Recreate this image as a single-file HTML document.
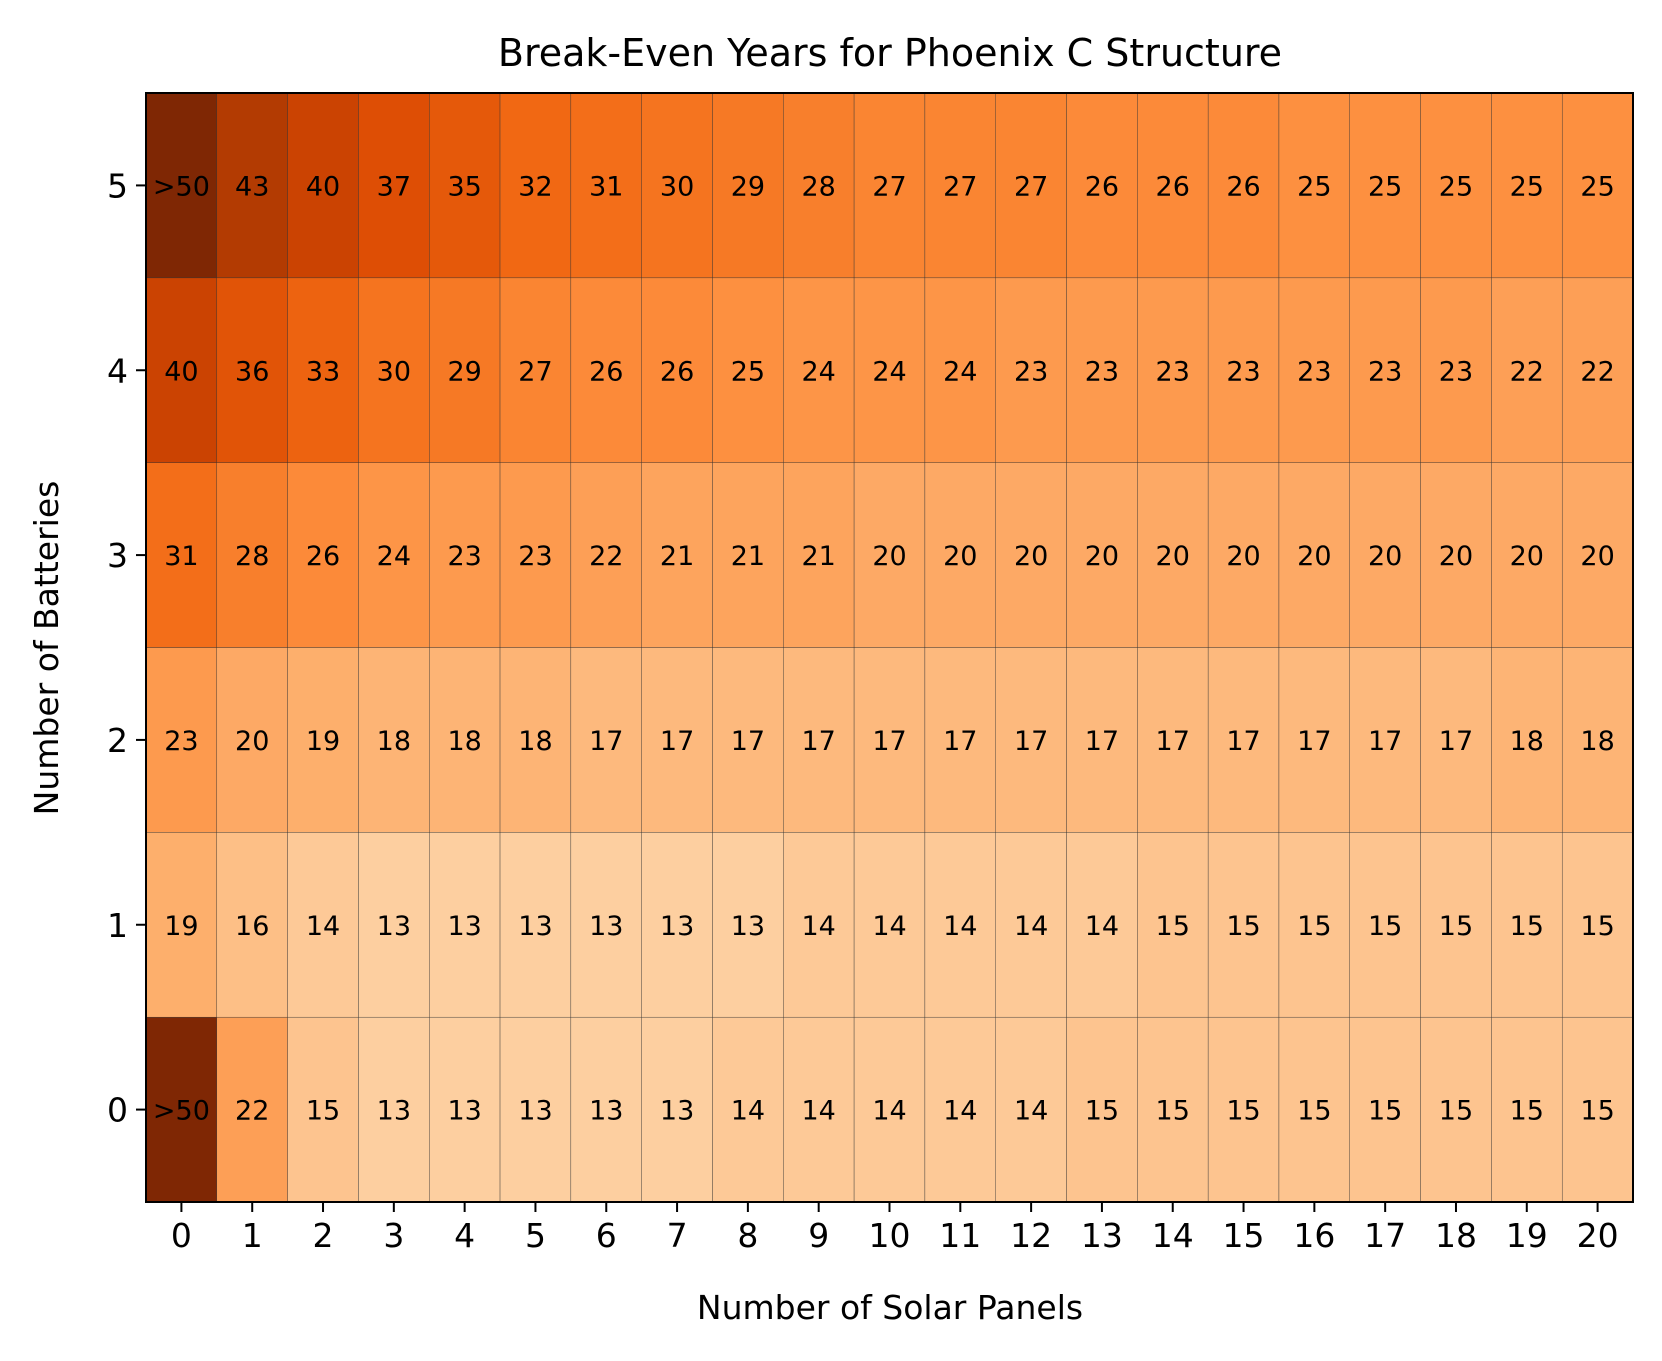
<!DOCTYPE html>
<html><head><meta charset="utf-8"><style>
html,body{margin:0;padding:0;background:#fff;}
svg{display:block;font-family:"DejaVu Sans","Liberation Sans",sans-serif;}
</style></head><body>
<svg id="chart" width="1662" height="1361" viewBox="0 0 1662 1361">
<text x="890" y="66" font-size="38" text-anchor="middle">Break-Even Years for Phoenix C Structure</text>
<g id="cells"></g>
<g id="xticks"></g>
<g id="yticks"></g>
<rect x="146" y="93" width="1487" height="1109" fill="none" stroke="#000" stroke-width="2"/>
<text x="890" y="1319" font-size="33" text-anchor="middle">Number of Solar Panels</text>
<text x="0" y="0" font-size="33" text-anchor="middle" transform="translate(58,648) rotate(-90)">Number of Batteries</text>
</svg>
<script>
const solarPanels=[0,1,2,3,4,5,6,7,8,9,10,11,12,13,14,15,16,17,18,19,20];
const batteries=[0,1,2,3,4,5];
const row0=[51,22,15,13,13,13,13,13,14,14,14,14,14,15,15,15,15,15,15,15,15];
const row1=[19,16,14,13,13,13,13,13,13,14,14,14,14,14,15,15,15,15,15,15,15];
const row2=[23,20,19,18,18,18,17,17,17,17,17,17,17,17,17,17,17,17,17,18,18];
const row3=[31,28,26,24,23,23,22,21,21,21,20,20,20,20,20,20,20,20,20,20,20];
const row4=[40,36,33,30,29,27,26,26,25,24,24,24,23,23,23,23,23,23,23,22,22];
const row5=[51,43,40,37,35,32,31,30,29,28,27,27,27,26,26,26,25,25,25,25,25];
const rows=[row0,row1,row2,row3,row4,row5];

const X0=146,X1=1633,Y0=93,Y1=1202;
const cw=(X1-X0)/solarPanels.length, ch=(Y1-Y0)/batteries.length;
const xc=i=>X0+cw*(i+0.5);
const yc=j=>Y1-ch*(j+0.5);
const stops=[[255,245,235],[254,230,206],[253,208,162],[253,174,107],[253,141,60],[241,105,19],[217,72,1],[166,54,3],[127,39,4]];
function color(v){let t=Math.max(0,Math.min(1,v/51))*8;let i=Math.min(7,Math.floor(t)),f=t-i;
const a=stops[i],b=stops[i+1];return `rgb(${a.map((c,k)=>Math.round(c+(b[k]-c)*f)).join(',')})`;}
const NS="http://www.w3.org/2000/svg";
const g=document.getElementById('cells');
rows.forEach((row,j)=>row.forEach((v,i)=>{
 const r=document.createElementNS(NS,'rect');
 r.setAttribute('x',xc(i)-cw/2);r.setAttribute('y',yc(j)-ch/2);
 r.setAttribute('width',cw);r.setAttribute('height',ch);
 r.setAttribute('fill',color(v));r.setAttribute('stroke','#333');r.setAttribute('stroke-width','0.4');
 
 
 g.appendChild(r);
 const t=document.createElementNS(NS,'text');
 t.setAttribute('x',xc(i));t.setAttribute('y',yc(j)+10);
 t.setAttribute('text-anchor','middle');t.setAttribute('font-size','27');
 t.textContent=v>50?'>50':String(v);
 
 
 g.appendChild(t);
}));
const xt=document.getElementById('xticks');
solarPanels.forEach((s,i)=>{
 const l=document.createElementNS(NS,'line');
 l.setAttribute('x1',xc(i));l.setAttribute('x2',xc(i));l.setAttribute('y1',Y1);l.setAttribute('y2',Y1+10);
 l.setAttribute('stroke','#000');l.setAttribute('stroke-width','2');
 
 
 xt.appendChild(l);
 const t=document.createElementNS(NS,'text');
 t.setAttribute('x',xc(i));t.setAttribute('y',Y1+45);t.setAttribute('text-anchor','middle');t.setAttribute('font-size','33');
 t.textContent=s;
 
 
 xt.appendChild(t);
});
const yt=document.getElementById('yticks');
batteries.forEach((b,j)=>{
 const l=document.createElementNS(NS,'line');
 l.setAttribute('x1',X0-10);l.setAttribute('x2',X0);l.setAttribute('y1',yc(j));l.setAttribute('y2',yc(j));
 l.setAttribute('stroke','#000');l.setAttribute('stroke-width','2');
 
 
 yt.appendChild(l);
 const t=document.createElementNS(NS,'text');
 t.setAttribute('x',X0-18);t.setAttribute('y',yc(j)+12);t.setAttribute('text-anchor','end');t.setAttribute('font-size','33');
 t.textContent=b;
 
 
 yt.appendChild(t);
});
</script>
</body></html>
